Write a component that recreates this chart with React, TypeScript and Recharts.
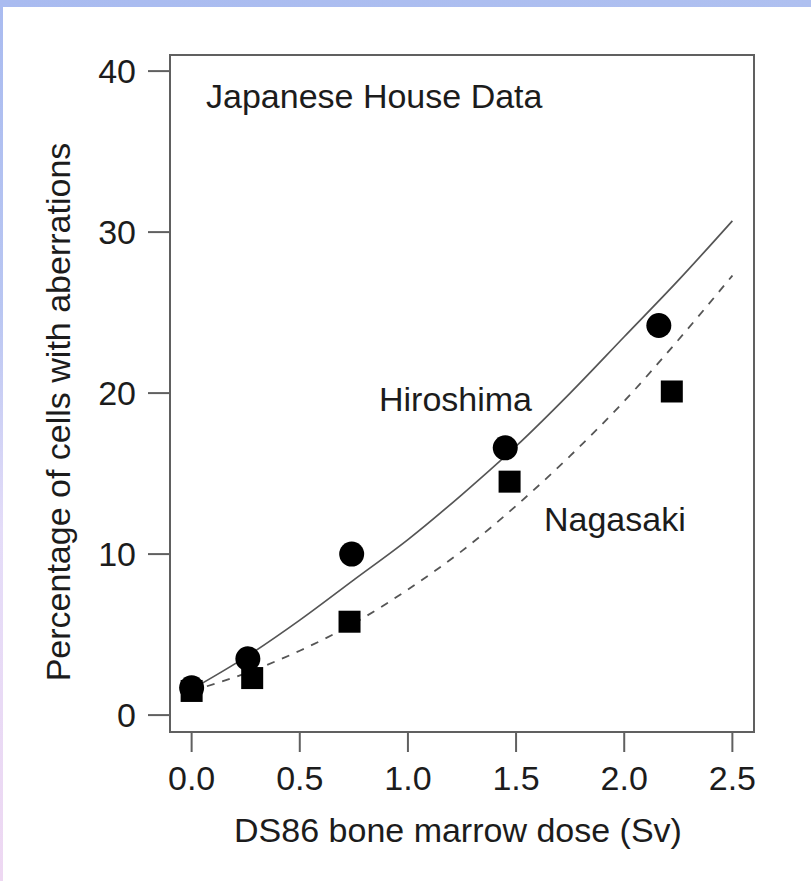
import React from 'react';
import {
  ComposedChart,
  Line,
  Scatter,
  XAxis,
  YAxis,
  ReferenceArea,
} from 'recharts';

// Observed data points
const hiroshimaDose = [0, 0.26, 0.74, 1.45, 2.16];
const hiroshimaPct = [1.7, 3.5, 10.0, 16.6, 24.2];
const nagasakiDose = [0, 0.28, 0.73, 1.47, 2.22];
const nagasakiPct = [1.5, 2.3, 5.8, 14.5, 20.1];

// Fitted curves
const curveDose = [0, 0.25, 0.5, 0.75, 1.0, 1.25, 1.5, 1.75, 2.0, 2.25, 2.5];
const hiroshimaFit = [1.6, 3.6, 5.9, 8.4, 10.9, 13.7, 16.7, 20.0, 23.5, 27.0, 30.7];
const nagasakiFit = [1.5, 2.6, 4.0, 5.7, 7.8, 10.2, 13.0, 16.1, 19.5, 23.3, 27.3];

const xTicks = [0, 0.5, 1.0, 1.5, 2.0, 2.5];
const yTicks = [0, 10, 20, 30, 40];

const titleText = 'Japanese House Data';
const seriesNames = ['Hiroshima', 'Nagasaki'];
const xLabel = 'DS86 bone marrow dose (Sv)';
const yLabel = 'Percentage of cells with aberrations';

const hPoints = hiroshimaDose.map((x, i) => ({ x, y: hiroshimaPct[i] }));
const nPoints = nagasakiDose.map((x, i) => ({ x, y: nagasakiPct[i] }));
const hCurve = curveDose.map((x, i) => ({ x, y: hiroshimaFit[i] }));
const nCurve = curveDose.map((x, i) => ({ x, y: nagasakiFit[i] }));

const FONT = '"Liberation Sans", Arial, Helvetica, sans-serif';
const FS = 34;
const TXT = '#1c1c1c';
const AX = '#606060';

const CircleShape = (props: any) => (
  <circle cx={props.cx} cy={props.cy} r={12.5} fill="#000" />
);
const SquareShape = (props: any) => (
  <rect x={props.cx - 11} y={props.cy - 11} width={22} height={22} fill="#000" />
);

export default function App() {
  return (
    <div
      style={{
        position: 'absolute',
        left: 0,
        top: 0,
        width: 811,
        height: 881,
        background: '#ffffff',
        overflow: 'hidden',
      }}
    >
      <div
        style={{
          position: 'absolute',
          left: 0,
          top: 0,
          width: 811,
          height: 7,
          background: 'linear-gradient(to right, #a9bbf0, #afc0f0)',
        }}
      />
      <div
        style={{
          position: 'absolute',
          left: 0,
          top: 0,
          width: 3,
          height: 881,
          background:
            'linear-gradient(to bottom, #a9bbf0 0%, #b9c6f2 35%, #e4dcf8 60%, #eed8f2 100%)',
        }}
      />
      <ComposedChart
        width={811}
        height={881}
        margin={{ top: 55, right: 57, left: 0, bottom: 49 }}
        style={{ position: 'absolute', left: 0, top: 0, fontFamily: FONT }}
      >
        <XAxis
          type="number"
          dataKey="x"
          domain={[-0.1, 2.6]}
          ticks={xTicks}
          allowDataOverflow
          height={100}
          tickSize={20}
          tickMargin={14}
          axisLine={false}
          tickLine={{ stroke: AX, strokeWidth: 2 }}
          tickFormatter={(v: number) => v.toFixed(1)}
          tick={{ fill: TXT, fontSize: FS, fontFamily: FONT }}
        />
        <YAxis
          type="number"
          dataKey="y"
          domain={[-1.05, 41]}
          ticks={yTicks}
          allowDataOverflow
          width={170}
          tickSize={22}
          tickMargin={12}
          axisLine={false}
          tickLine={{ stroke: AX, strokeWidth: 2 }}
          tick={{ fill: TXT, fontSize: FS, fontFamily: FONT }}
        />
        <ReferenceArea
          x1={-0.1}
          x2={2.6}
          y1={-1.05}
          y2={41}
          fill="none"
          fillOpacity={0}
          stroke={AX}
          strokeWidth={2}
          ifOverflow="visible"
        />
        <Line
          data={hCurve}
          dataKey="y"
          type="monotone"
          stroke="#555"
          strokeWidth={1.7}
          dot={false}
          activeDot={false}
          isAnimationActive={false}
        />
        <Line
          data={nCurve}
          dataKey="y"
          type="monotone"
          stroke="#555"
          strokeWidth={1.8}
          strokeDasharray="8 8"
          dot={false}
          activeDot={false}
          isAnimationActive={false}
        />
        <Scatter data={hPoints} dataKey="y" shape={CircleShape} isAnimationActive={false} />
        <Scatter data={nPoints} dataKey="y" shape={SquareShape} isAnimationActive={false} />
        <text x={206} y={108} fontSize={FS} fontFamily={FONT} fill={TXT}>
          {titleText}
        </text>
        <text x={379} y={411} fontSize={FS} fontFamily={FONT} fill={TXT}>
          {seriesNames[0]}
        </text>
        <text x={544} y={531} fontSize={FS} fontFamily={FONT} fill={TXT}>
          {seriesNames[1]}
        </text>
        <text
          x={458}
          y={842}
          fontSize={FS}
          fontFamily={FONT}
          fill={TXT}
          textAnchor="middle"
        >
          {xLabel}
        </text>
        <text
          x={70}
          y={412}
          fontSize={FS}
          fontFamily={FONT}
          fill={TXT}
          textAnchor="middle"
          transform="rotate(-90 70 412)"
        >
          {yLabel}
        </text>
      </ComposedChart>
    </div>
  );
}
